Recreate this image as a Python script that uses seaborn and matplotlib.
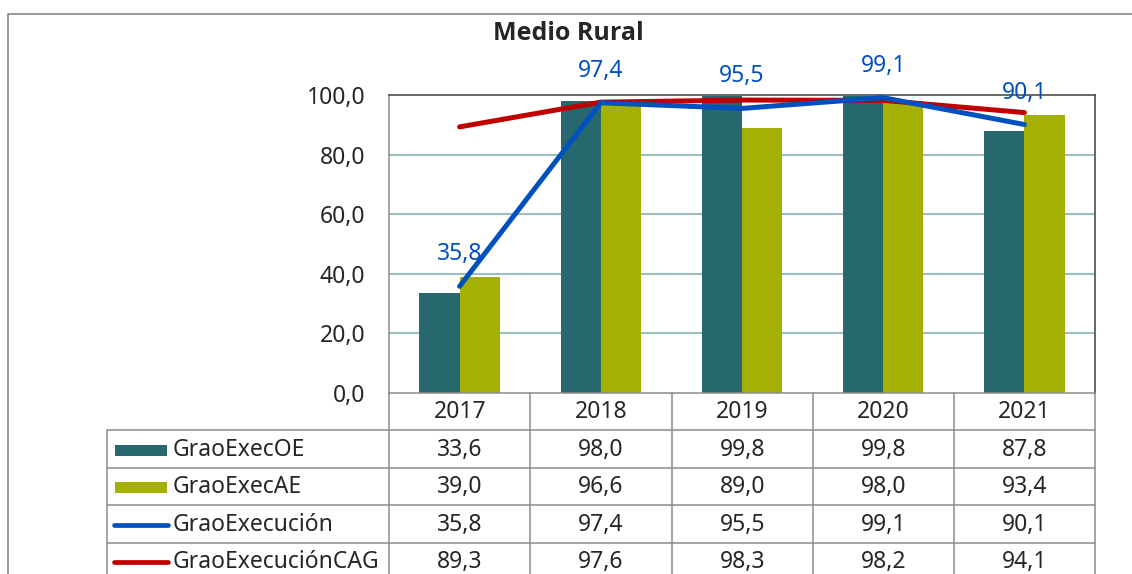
import numpy as np
import pandas as pd
import matplotlib
matplotlib.use("Agg")
import matplotlib.pyplot as plt
import seaborn as sns

# data
years = ["2017", "2018", "2019", "2020", "2021"]
exec_oe = [33.6, 98.0, 99.8, 99.8, 87.8]
exec_ae = [39.0, 96.6, 89.0, 98.0, 93.4]
execucion = [35.8, 97.4, 95.5, 99.1, 90.1]
execucion_cag = [89.3, 97.6, 98.3, 98.2, 94.1]
series_names = ["GraoExecOE", "GraoExecAE", "GraoExecución", "GraoExecuciónCAG"]
yticks = [0, 20, 40, 60, 80, 100]

teal = "#26686D"
olive = "#A5B004"
blue = "#0050C0"
red = "#C00000"
grid_col = "#9DBEBF"
table_col = "#8C8C8C"

sns.set_style("white")
plt.rcParams["font.family"] = ["Noto Sans", "DejaVu Sans"]
fs = 16.5

fig = plt.figure(figsize=(11.32, 5.74), dpi=100)

# plot area
ax = fig.add_axes([389 / 1132, 181 / 574, 706 / 1132, 298 / 574])
bars = pd.DataFrame({
    "year": years * 2,
    "value": exec_oe + exec_ae,
    "serie": [series_names[0]] * 5 + [series_names[1]] * 5,
})
sns.barplot(data=bars, x="year", y="value", hue="serie",
            palette=[teal, olive], width=0.57, gap=0, saturation=1,
            linewidth=0, legend=False, ax=ax, zorder=2)

xpos = np.arange(len(years))
sns.lineplot(x=xpos, y=execucion_cag, color=red, lw=3.6, ax=ax, zorder=4,
             solid_capstyle="round")
sns.lineplot(x=xpos, y=execucion, color=blue, lw=3.6, ax=ax, zorder=5,
             solid_capstyle="round")

for x, v in zip(xpos, execucion):
    ax.annotate(f"{v:.1f}".replace(".", ","), (x, v), xytext=(0, 23),
                textcoords="offset points", ha="center", va="center",
                color=blue, fontsize=fs, annotation_clip=False)

ax.set_xlim(-0.5, len(years) - 0.5)
ax.set_ylim(0, 100)
ax.set_yticks(yticks)
ax.set_yticklabels([f"{t:.1f}".replace(".", ",") for t in yticks], fontsize=fs)
ax.tick_params(axis="y", length=0, pad=17)
ax.set_xticks([])
ax.set_xlabel("")
ax.set_ylabel("")
for t in yticks[1:-1]:
    ax.axhline(t, color=grid_col, lw=1.5, zorder=1)
for side in ["top", "right"]:
    ax.spines[side].set_color("#404040")
    ax.spines[side].set_linewidth(1.1)
ax.spines["left"].set_color(table_col)
ax.spines["left"].set_linewidth(1.1)
ax.spines["bottom"].set_visible(False)

# data table below the plot
tab = fig.add_axes([107 / 1132, -6 / 574, 988 / 1132, 187 / 574])
tab.set_xlim(-2.5, len(years) - 0.5)
tab.set_ylim(5, 0)
tab.axis("off")
lk = dict(color=table_col, lw=1.1, clip_on=False)
tab.plot([-0.5, len(years) - 0.5], [0, 0], **lk)
for r in range(1, 5):
    tab.plot([-2.5, len(years) - 0.5], [r, r], **lk)
tab.plot([-2.5, -2.5], [1, 5], **lk)
for c in range(len(years) + 1):
    tab.plot([c - 0.5, c - 0.5], [0, 5], **lk)

for i, y in enumerate(years):
    tab.text(i, 0.5, y, ha="center", va="center", fontsize=fs)

rows = [exec_oe, exec_ae, execucion, execucion_cag]
for r, vals in enumerate(rows, start=1):
    for i, v in enumerate(vals):
        tab.text(i, r + 0.52, f"{v:.1f}".replace(".", ","), ha="center",
                 va="center", fontsize=fs)
    tab.text(-2.5 + 0.465, r + 0.52, series_names[r - 1], ha="left",
             va="center", fontsize=fs)

# legend keys in the table
tab.fill_between([-2.5 + 0.057, -2.5 + 0.425], 1.38, 1.68, color=teal, lw=0)
tab.fill_between([-2.5 + 0.057, -2.5 + 0.425], 2.38, 2.68, color=olive, lw=0)
tab.plot([-2.5 + 0.05, -2.5 + 0.43], [3.53, 3.53], color=blue, lw=3.4,
         solid_capstyle="round", clip_on=False)
tab.plot([-2.5 + 0.05, -2.5 + 0.43], [4.53, 4.53], color=red, lw=3.4,
         solid_capstyle="round", clip_on=False)

# chart title and outer frame
fig.text(568 / 1132, 1 - 34 / 574, "Medio Rural", ha="center", va="center",
         fontsize=18, fontweight="bold", family=["Open Sans", "DejaVu Sans"])
fig.add_artist(plt.Line2D([8 / 1132, 8 / 1132, 1.0],
                          [0, 1 - 14 / 574, 1 - 14 / 574],
                          transform=fig.transFigure, color="#888888", lw=1.2))

fig.savefig("out.png", dpi=100)
